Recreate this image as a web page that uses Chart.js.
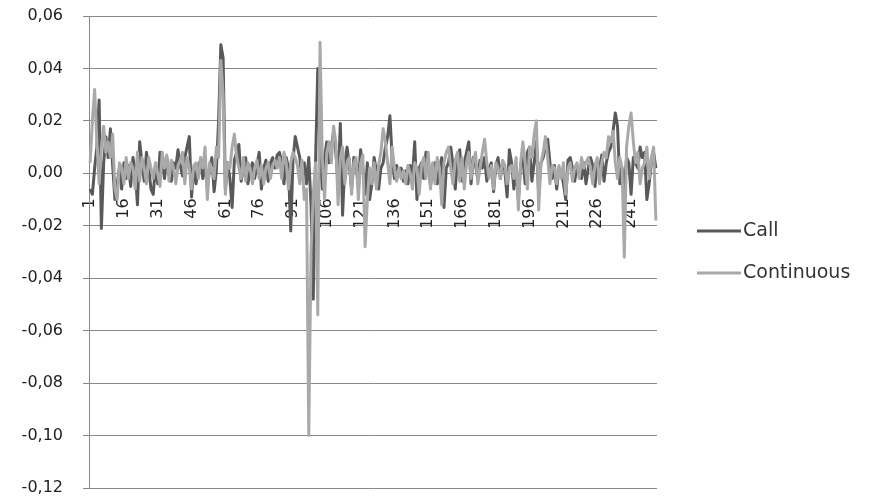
<!DOCTYPE html>
<html lang="en">
<head>
    <meta charset="utf-8">
    <style>
        body { margin: 0; background: #fff; }
        #wrap { width: 872px; height: 504px; }
    </style>
</head>
<body>
    <div id="wrap">
        <canvas id="myChart" width="872" height="504"></canvas>
    </div>

    <script src="https://cdn.jsdelivr.net/npm/chart.js@4.4.1/dist/chart.umd.min.js"></script>

    <script>
        // daily returns, one value per observation
        var callReturns = [
            -0.006, -0.008, 0.002, 0.010, 0.028, -0.021, 0.004, 0.014, 0.006, 0.017, 0.003, -0.010,
            -0.004, 0.002, -0.006, 0.004, -0.002, 0.003, -0.005, 0.006, 0.001, -0.012, 0.012, 0.004,
            -0.003, 0.008, 0.002, -0.006, -0.008, 0.003, -0.004, 0.008, 0.005, -0.002, 0.006, 0.001,
            -0.003, 0.004, 0.002, 0.009, 0.003, -0.001, 0.006, 0.010, 0.014, -0.009, 0.002, -0.004,
            0.003, 0.005, -0.002, 0.004, -0.006, 0.002, 0.006, -0.007, 0.001, 0.020, 0.049, 0.044,
            -0.006, 0.004, -0.002, -0.013, 0.005, 0.008, 0.011, -0.003, 0.002, 0.006, -0.004, 0.001,
            0.004, -0.002, 0.003, 0.008, -0.006, 0.002, 0.005, -0.003, 0.004, 0.006, 0.002, 0.007,
            0.008, 0.004, -0.004, 0.006, 0.002, -0.022, 0.005, 0.014, 0.010, 0.006, -0.002, 0.004,
            -0.004, 0.006, -0.012, -0.048, 0.004, 0.040, 0.008, -0.006, 0.006, 0.012, 0.004, 0.010,
            0.016, 0.008, -0.004, 0.019, -0.016, 0.004, 0.010, 0.003, -0.006, 0.006, 0.002, -0.004,
            0.009, 0.002, -0.008, 0.004, -0.010, -0.004, 0.006, 0.001, -0.006, 0.002, 0.004, 0.010,
            0.014, 0.022, 0.006, -0.002, 0.003, -0.001, 0.002, -0.003, 0.001, -0.004, 0.003, -0.002,
            0.012, -0.010, 0.002, 0.004, -0.002, 0.008, 0.006, -0.005, 0.003, 0.004, -0.004, 0.002,
            0.006, -0.013, 0.002, 0.004, 0.010, 0.003, -0.006, 0.006, 0.009, -0.003, 0.004, 0.008,
            0.012, -0.004, 0.006, 0.003, -0.002, 0.005, 0.002, 0.006, -0.003, 0.002, 0.004, -0.007,
            0.003, 0.006, -0.002, 0.004, 0.001, -0.009, 0.009, 0.004, -0.006, 0.002, -0.010, 0.003,
            0.006, -0.004, 0.008, 0.010, -0.003, 0.004, 0.012, -0.008, 0.004, 0.006, 0.010, 0.013,
            0.004, -0.002, 0.003, -0.006, 0.002, 0.001, -0.004, -0.010, 0.005, 0.006, 0.002, -0.003,
            0.003, 0.001, -0.002, 0.004, -0.004, 0.002, 0.006, 0.003, -0.005, 0.004, 0.002, 0.007,
            -0.003, 0.004, 0.008, 0.010, 0.016, 0.023, 0.018, -0.004, 0.002, -0.006, 0.006, 0.004,
            -0.008, 0.006, 0.004, 0.002, 0.010, 0.006, 0.008, -0.010, -0.004, 0.004, 0.008, 0.002
        ];

        var continuousReturns = [
            0.004, 0.020, 0.032, 0.012, -0.004, 0.010, 0.018, 0.008, 0.012, 0.006, 0.015, -0.006,
            -0.010, 0.004, 0.002, -0.004, 0.006, -0.002, 0.004, 0.002, -0.006, 0.008, -0.003, 0.006,
            0.002, -0.004, 0.006, 0.002, -0.002, 0.004, 0.000, -0.005, 0.008, 0.002, 0.007, -0.003,
            0.005, 0.002, -0.004, 0.003, 0.005, 0.008, -0.004, 0.006, 0.002, -0.006, 0.003, 0.004,
            -0.002, 0.006, 0.002, 0.010, -0.010, 0.004, 0.002, -0.002, 0.010, 0.006, 0.043, 0.030,
            -0.008, 0.004, 0.002, 0.010, 0.015, 0.006, 0.002, -0.002, 0.006, -0.003, 0.004, 0.002,
            -0.004, 0.002, 0.005, -0.002, 0.003, -0.004, 0.002, 0.004, -0.002, 0.003, 0.005, 0.002,
            0.006, -0.002, 0.008, 0.004, -0.006, 0.004, 0.008, 0.006, 0.003, -0.004, 0.005, -0.010,
            -0.006, -0.100, -0.030, -0.008, 0.004, -0.054, 0.050, 0.006, -0.010, 0.008, 0.012, 0.004,
            0.018, 0.012, -0.012, 0.006, 0.010, -0.004, 0.004, 0.006, -0.008, 0.004, 0.006, -0.010,
            0.004, 0.007, -0.028, -0.010, 0.002, -0.004, 0.004, -0.006, 0.003, 0.008, 0.017, 0.012,
            0.004, -0.004, 0.010, 0.002, -0.003, 0.002, -0.002, 0.001, -0.004, 0.003, 0.000, -0.006,
            0.004, 0.002, -0.008, 0.003, 0.006, -0.002, 0.008, -0.006, 0.004, -0.004, 0.006, 0.002,
            -0.012, 0.004, 0.008, 0.010, 0.002, -0.004, 0.005, 0.008, -0.003, 0.006, -0.006, 0.004,
            0.008, -0.002, 0.005, 0.008, -0.004, 0.002, 0.008, 0.013, 0.004, -0.002, 0.003, -0.006,
            0.004, 0.002, -0.002, 0.005, 0.003, -0.004, 0.002, 0.003, -0.002, 0.006, -0.014, 0.004,
            0.012, 0.004, -0.006, 0.010, 0.006, 0.015, 0.020, -0.014, 0.004, 0.008, 0.014, 0.006,
            -0.004, 0.003, 0.002, -0.004, 0.003, -0.002, 0.004, -0.008, 0.002, 0.004, -0.003, 0.002,
            0.004, -0.002, 0.006, 0.002, 0.004, 0.006, 0.002, -0.004, 0.003, 0.006, -0.004, 0.004,
            0.008, 0.006, 0.014, 0.012, 0.016, 0.004, -0.002, 0.006, 0.002, -0.032, 0.010, 0.018,
            0.023, 0.012, 0.004, 0.008, -0.004, 0.002, 0.004, 0.010, -0.002, 0.006, 0.010, -0.018
        ];

        // observation numbers 1..n on the category axis, labelled every 15th
        var categories = callReturns.map(function (v, i) { return String(i + 1); });
        var tickStep = 15;

        var seriesNames = ['Call', 'Continuous'];
        var seriesColors = ['#595959', '#a9a9a9'];

        var axisFont = { family: 'DejaVu Sans', size: 16 };
        var gridColor = '#888888';

        // legend drawn to the right of the plot: short line sample + name
        var sideLegend = {
            id: 'sideLegend',
            afterDraw: function (chart) {
                var ctx = chart.ctx;
                var x0 = chart.chartArea.right + 40;
                chart.data.datasets.forEach(function (ds, i) {
                    var y = 231 + i * 42;
                    ctx.save();
                    ctx.strokeStyle = ds.borderColor;
                    ctx.lineWidth = 3;
                    ctx.beginPath();
                    ctx.moveTo(x0, y);
                    ctx.lineTo(x0 + 44, y);
                    ctx.stroke();
                    ctx.fillStyle = '#333333';
                    ctx.font = '19px "DejaVu Sans"';
                    ctx.textBaseline = 'middle';
                    ctx.fillText(ds.label, x0 + 46, y);
                    ctx.restore();
                });
            }
        };

        var ctx = document.getElementById('myChart').getContext('2d');
        var lineChart = new Chart(ctx, {
            type: 'line',
            data: {
                labels: categories,
                datasets: [
                    {
                        label: seriesNames[0],
                        data: callReturns,
                        borderColor: seriesColors[0],
                        borderWidth: 3,
                        pointRadius: 0,
                        borderJoinStyle: 'round',
                        tension: 0,
                        order: 1
                    },
                    {
                        label: seriesNames[1],
                        data: continuousReturns,
                        borderColor: seriesColors[1],
                        borderWidth: 3,
                        pointRadius: 0,
                        borderJoinStyle: 'round',
                        tension: 0,
                        order: 0
                    }
                ]
            },
            options: {
                responsive: false,
                animation: false,
                layout: { padding: { left: 0, top: 16, right: 215, bottom: 16 } },
                plugins: {
                    legend: { display: false },
                    tooltip: { enabled: false }
                },
                scales: {
                    x: {
                        position: { y: 0 },
                        offset: true,
                        grid: { display: false, drawTicks: false },
                        border: { display: true, color: gridColor, width: 1 },
                        ticks: {
                            autoSkip: false,
                            minRotation: 90,
                            maxRotation: 90,
                            padding: 25,
                            color: '#222222',
                            font: axisFont,
                            callback: function (value, index) {
                                return index % tickStep === 0 ? categories[index] : '';
                            }
                        }
                    },
                    y: {
                        min: -0.12,
                        max: 0.06,
                        grid: { color: gridColor, tickLength: 6, drawTicks: true },
                        border: { display: true, color: gridColor },
                        // fixed axis width; keep the wide label gap from pushing the plot inwards
                        afterFit: function (scale) {
                            scale.width = 89;
                            scale.paddingTop = 8;
                            scale.paddingBottom = 8;
                        },
                        ticks: {
                            stepSize: 0.02,
                            padding: 20,
                            color: '#222222',
                            font: axisFont,
                            callback: function (value) {
                                if (Math.abs(value) < 1e-9) value = 0;
                                return value.toFixed(2).replace('.', ',');
                            }
                        }
                    }
                }
            },
            plugins: [sideLegend]
        });
    </script>
</body>
</html>
